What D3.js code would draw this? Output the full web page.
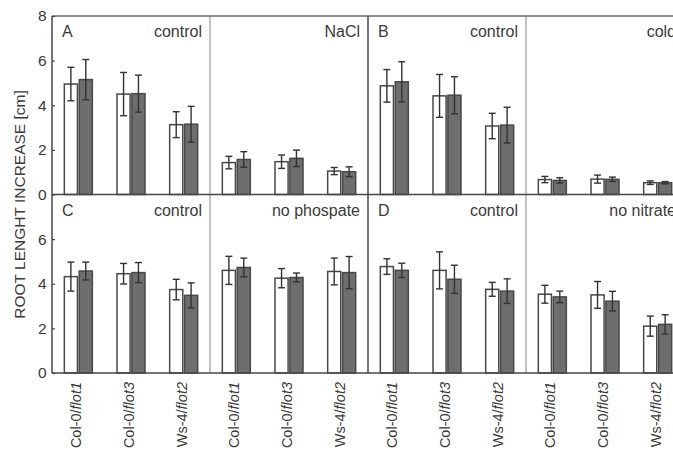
<!DOCTYPE html>
<html><head><meta charset="utf-8">
<script src="https://cdn.jsdelivr.net/npm/d3@7"></script>
<style>
html,body{margin:0;padding:0;background:#fff;}
svg{display:block;font-family:"Liberation Sans",Arial,Helvetica,sans-serif;}
</style></head>
<body>
<svg id="chart" width="673" height="452"></svg>
<script>
// ---- data ----
const genotypes = ["Col-0/flot1", "Col-0/flot3", "Ws-4/flot2"];
const panelLetters = ["A", "B", "C", "D"];
const treatments = [["control", "NaCl"], ["control", "cold"], ["control", "no phospate"], ["control", "no nitrate"]];
// per panel: 6 values = control (3 genotypes) then treatment (3 genotypes)
const whiteMean = [
  [4.95, 4.50, 3.13, 1.43, 1.47, 1.05],
  [4.87, 4.42, 3.07, 0.67, 0.69, 0.53],
  [4.32, 4.45, 3.74, 4.60, 4.25, 4.55],
  [4.77, 4.60, 3.75, 3.53, 3.50, 2.10]
];
const whiteErr = [
  [0.75, 0.97, 0.58, 0.28, 0.30, 0.16],
  [0.73, 0.96, 0.57, 0.14, 0.18, 0.08],
  [0.65, 0.46, 0.46, 0.63, 0.43, 0.60],
  [0.35, 0.83, 0.31, 0.40, 0.60, 0.45]
];
const grayMean = [
  [5.15, 4.52, 3.15, 1.57, 1.62, 1.02],
  [5.05, 4.45, 3.11, 0.63, 0.68, 0.53],
  [4.57, 4.50, 3.48, 4.73, 4.28, 4.50],
  [4.60, 4.20, 3.67, 3.41, 3.22, 2.18]
];
const grayErr = [
  [0.90, 0.83, 0.80, 0.35, 0.37, 0.22],
  [0.90, 0.83, 0.80, 0.12, 0.10, 0.05],
  [0.40, 0.45, 0.56, 0.42, 0.20, 0.72],
  [0.32, 0.63, 0.55, 0.26, 0.44, 0.43]
];
const yTicksTop = [0, 2, 4, 6, 8];
const yTicksBottom = [0, 2, 4, 6];
const yLabel = "ROOT LENGHT INCREASE [cm]";

// ---- layout ----
const svg = d3.select("#chart");
const left = 52, subW = 158;
const rowTop = [16, 194.5], rowBottom = [194.5, 373];
const textCol = "#3a3a3a", frameCol = "#474747";

const yScales = [
  d3.scaleLinear().domain([0, 8]).range([rowBottom[0], rowTop[0]]),
  d3.scaleLinear().domain([0, 8]).range([rowBottom[1], rowTop[1]])
];

const colScale = d3.scaleBand().domain(d3.range(4)).range([left, left + 4 * subW]);
const groupScale = d3.scaleBand().domain(genotypes).range([0, subW]);
const pairScale = d3.scaleBand().domain(["white", "gray"]).range([-14, 14]).paddingInner(0.12);

panelLetters.forEach((letter, p) => {
  const row = p < 2 ? 0 : 1;
  const colPair = (p % 2) * 2;
  const y = yScales[row];
  const g = svg.append("g");
  for (let t = 0; t < 2; t++) {
    const x0 = colScale(colPair + t);
    genotypes.forEach((gen, i) => {
      const cx = x0 + groupScale(gen) + groupScale.bandwidth() / 2;
      const k = t * 3 + i;
      const bars = [
        {s: "white", m: whiteMean[p][k], e: whiteErr[p][k], fill: "#ffffff"},
        {s: "gray", m: grayMean[p][k], e: grayErr[p][k], fill: "#6e6e6e"}
      ];
      bars.forEach(b => {
        const bx = cx + pairScale(b.s);
        const bw = pairScale.bandwidth();
        g.append("rect")
          .attr("x", bx).attr("y", y(b.m))
          .attr("width", bw).attr("height", y(0) - y(b.m))
          .attr("fill", b.fill).attr("stroke", "#484848").attr("stroke-width", 1.5);
        const ex = bx + bw / 2;
        const eg = g.append("g").attr("stroke", "#333").attr("stroke-width", 1.4);
        eg.append("line").attr("x1", ex).attr("x2", ex).attr("y1", y(b.m + b.e)).attr("y2", y(b.m - b.e));
        eg.append("line").attr("x1", ex - 3.5).attr("x2", ex + 3.5).attr("y1", y(b.m + b.e)).attr("y2", y(b.m + b.e));
        eg.append("line").attr("x1", ex - 3.5).attr("x2", ex + 3.5).attr("y1", y(b.m - b.e)).attr("y2", y(b.m - b.e));
      });
    });
    g.append("text").attr("x", x0 + subW - 8).attr("y", rowTop[row] + 21)
      .attr("text-anchor", "end").attr("font-size", 16).attr("fill", textCol)
      .text(treatments[p][t]);
  }
  g.append("text").attr("x", colScale(colPair) + 10).attr("y", rowTop[row] + 21)
    .attr("font-size", 16).attr("fill", textCol).text(letter);
  const dx = colScale(colPair + 1);
  g.append("line").attr("x1", dx).attr("x2", dx).attr("y1", rowTop[row]).attr("y2", rowBottom[row])
    .attr("stroke", "#9a9a9a").attr("stroke-width", 1.2);
});

const right = left + 4 * subW;
const frame = svg.append("g").attr("stroke", frameCol).attr("stroke-width", 1.5).attr("fill", "none");
frame.append("line").attr("x1", left).attr("x2", right).attr("y1", rowTop[0]).attr("y2", rowTop[0]).attr("stroke", "#6a6a6a");
frame.append("line").attr("x1", left).attr("x2", right).attr("y1", rowBottom[0]).attr("y2", rowBottom[0]);
frame.append("line").attr("x1", left).attr("x2", right).attr("y1", rowBottom[1]).attr("y2", rowBottom[1]);
frame.append("line").attr("x1", left).attr("x2", left).attr("y1", rowTop[0]).attr("y2", rowBottom[1]);
frame.append("line").attr("x1", colScale(2)).attr("x2", colScale(2)).attr("y1", rowTop[0]).attr("y2", rowBottom[1]);

[yTicksTop, yTicksBottom].forEach((ticks, r) => {
  const ax = d3.axisLeft(yScales[r]).tickValues(ticks).tickSize(-3).tickPadding(7).tickFormat(d3.format("d"));
  const a = svg.append("g").attr("transform", `translate(${left},0)`).call(ax);
  a.select(".domain").remove();
  a.selectAll("line").attr("stroke", frameCol).attr("stroke-width", 1.2);
  a.selectAll("text").attr("font-size", 15.5).attr("fill", textCol)
    .attr("font-family", "'Liberation Sans',Arial,sans-serif").attr("x", -5.5);
});

svg.append("text")
  .attr("transform", `translate(25,${(rowTop[0] + rowBottom[1]) / 2 + 10}) rotate(-90)`)
  .attr("text-anchor", "middle").attr("font-size", 15.5).attr("fill", textCol)
  .text(yLabel);

for (let c = 0; c < 4; c++) {
  genotypes.forEach(gen => {
    const cx = colScale(c) + groupScale(gen) + groupScale.bandwidth() / 2 - 2;
    const parts = gen.split("/");
    const t = svg.append("text")
      .attr("transform", `translate(${cx},${rowBottom[1] + 9}) rotate(-90)`)
      .attr("text-anchor", "end").attr("dy", "0.35em")
      .attr("font-size", 14.5).attr("fill", textCol);
    t.append("tspan").text(parts[0] + "/");
    t.append("tspan").attr("font-style", "italic").text(parts[1]);
  });
}
</script>
</body></html>
